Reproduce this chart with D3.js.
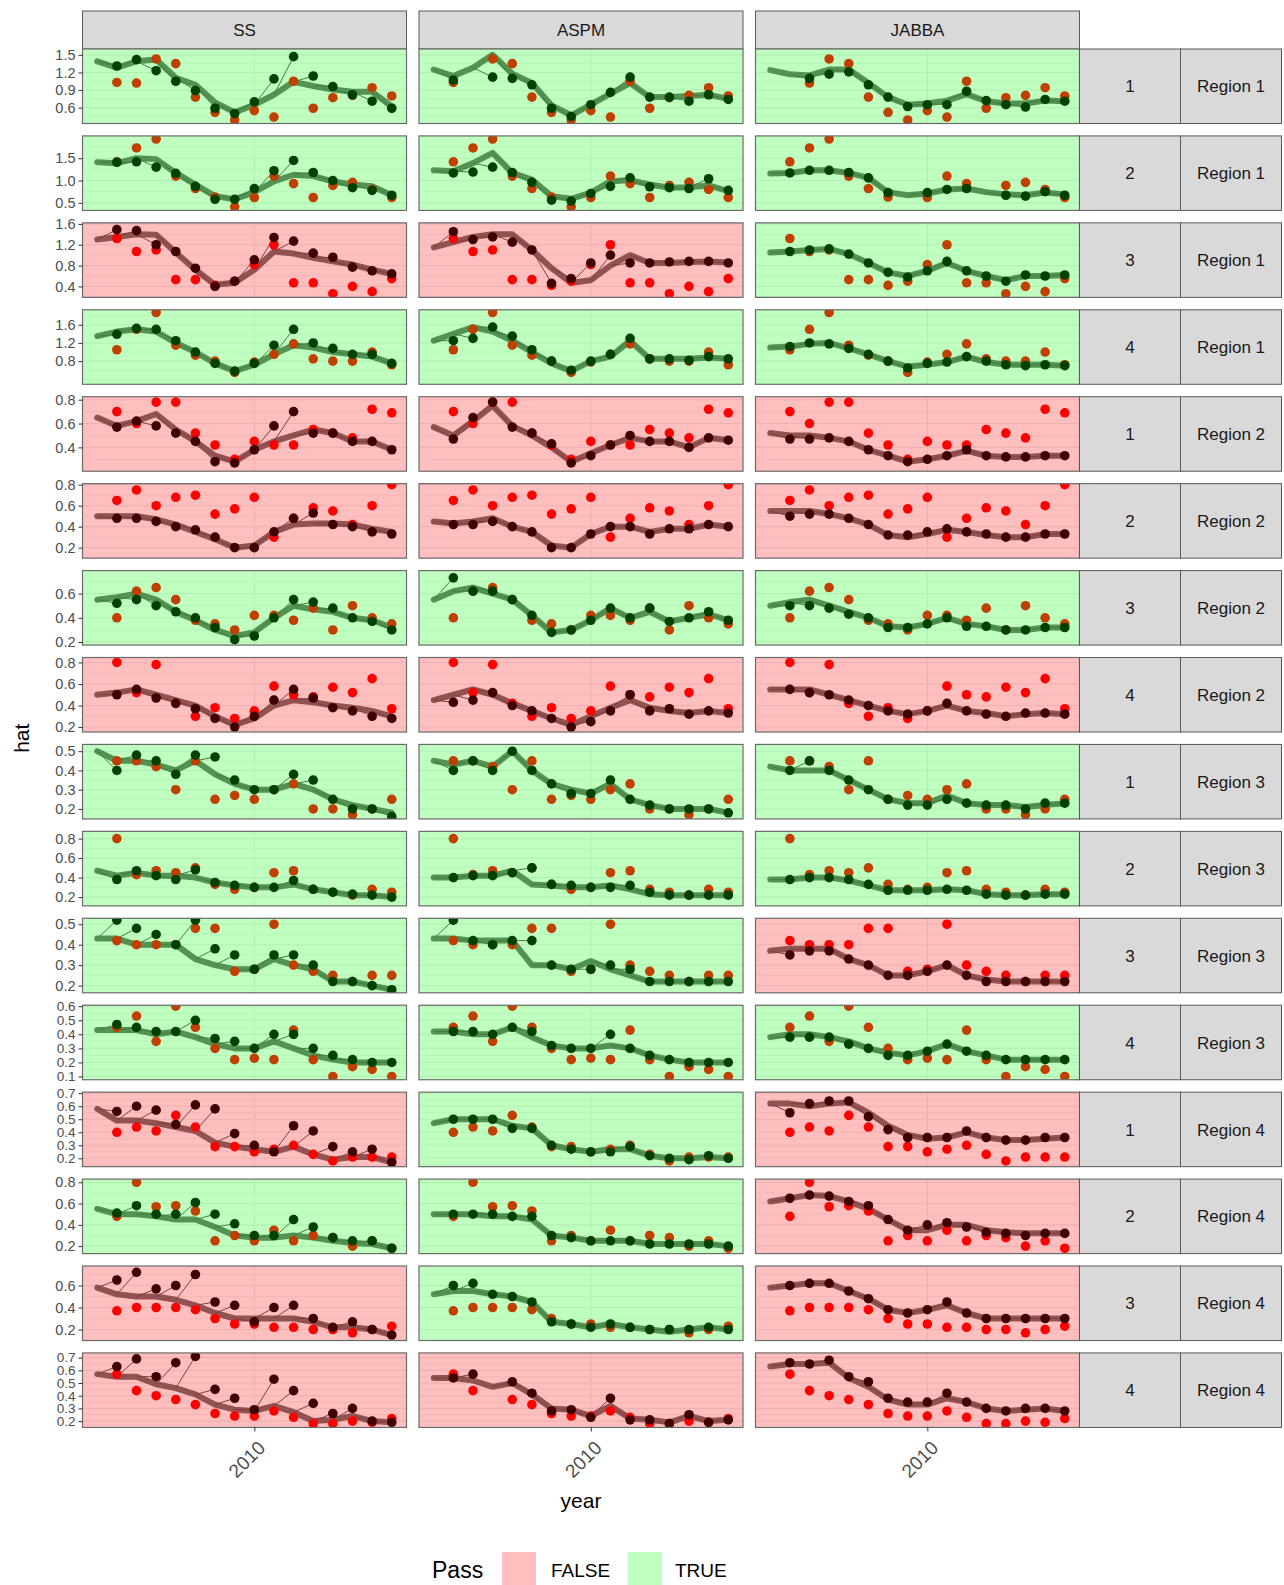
<!DOCTYPE html>
<html>
<head>
<meta charset="utf-8">
<script src="https://cdn.jsdelivr.net/npm/d3@7"></script>
<style>
  body { margin: 0; background: #fff; }
  svg text { font-family: "Liberation Sans", Arial, Helvetica, sans-serif; }
</style>
</head>
<body>
<svg id="chart" width="1284" height="1585"></svg>
<script>
// ---- facet labels ----
const models = ["SS", "ASPM", "JABBA"];
const indexLabels = ["1","2","3","4","1","2","3","4","1","2","3","4","1","2","3","4"];
const regionLabels = ["Region 1","Region 1","Region 1","Region 1","Region 2","Region 2","Region 2","Region 2",
                      "Region 3","Region 3","Region 3","Region 3","Region 4","Region 4","Region 4","Region 4"];

// ---- years ----
const fitYears  = [2002,2003,2004,2005,2006,2007,2008,2009,2010,2011,2012,2013,2014,2015,2016,2017];
const predYears = [2003,2004,2005,2006,2007,2008,2009,2010,2011,2012,2013,2014,2015,2016,2017];
const xTicks = [2010];

// ---- y axis per facet row ----
const yLimits = [
  [0.33,1.60],[0.33,2.00],[0.19,1.62],[0.29,1.93],
  [0.20,0.825],[0.10,0.81],[0.175,0.79],[0.154,0.846],
  [0.148,0.535],[0.11,0.874],[0.165,0.529],[0.077,0.607],
  [0.136,0.708],[0.13,0.83],[0.10,0.777],[0.15,0.737]
];
const yTicks = [
  [0.6,0.9,1.2,1.5],[0.5,1.0,1.5],[0.4,0.8,1.2,1.6],[0.8,1.2,1.6],
  [0.4,0.6,0.8],[0.2,0.4,0.6,0.8],[0.2,0.4,0.6],[0.2,0.4,0.6,0.8],
  [0.2,0.3,0.4,0.5],[0.2,0.4,0.6,0.8],[0.2,0.3,0.4,0.5],[0.1,0.2,0.3,0.4,0.5,0.6],
  [0.2,0.3,0.4,0.5,0.6,0.7],[0.2,0.4,0.6,0.8],[0.2,0.4,0.6],[0.2,0.3,0.4,0.5,0.6,0.7]
];

// ---- Pass (per row: SS, ASPM, JABBA) ----
const pass = [
  [true,true,true],[true,true,true],[false,false,true],[true,true,true],
  [false,false,false],[false,false,false],[true,true,true],[false,false,false],
  [true,true,true],[true,true,true],[true,true,false],[true,true,true],
  [false,true,false],[true,true,false],[false,true,false],[false,false,false]
];

// ---- observed index (2003-2017), one row per facet row ----
const observed = [
  [1.03,1.02,1.43,1.35,0.78,0.52,0.39,0.55,0.44,1.05,0.59,0.77,0.81,0.94,0.80],
  [1.42,1.73,1.93,1.10,0.82,0.63,0.41,0.62,1.10,0.93,0.62,0.89,0.96,0.80,0.62],
  [1.32,1.07,1.10,0.53,0.53,0.42,0.50,0.82,1.20,0.47,0.47,0.26,0.40,0.30,0.55],
  [1.05,1.50,1.87,1.15,0.93,0.80,0.55,0.78,0.95,1.18,0.85,0.80,0.80,1.00,0.72],
  [0.70,0.60,0.78,0.78,0.52,0.42,0.30,0.45,0.42,0.42,0.55,0.52,0.48,0.72,0.69],
  [0.65,0.75,0.60,0.68,0.70,0.52,0.57,0.68,0.30,0.48,0.58,0.55,0.42,0.60,0.80],
  [0.40,0.62,0.65,0.55,0.38,0.35,0.30,0.42,0.42,0.38,0.48,0.30,0.50,0.40,0.35],
  [0.80,0.52,0.78,0.42,0.30,0.38,0.28,0.35,0.58,0.50,0.48,0.57,0.52,0.65,0.37],
  [0.45,0.45,0.42,0.30,0.45,0.25,0.27,0.25,0.30,0.33,0.20,0.20,0.17,0.20,0.25],
  [0.80,0.43,0.47,0.45,0.50,0.33,0.28,0.30,0.45,0.47,0.28,0.25,0.22,0.28,0.25],
  [0.42,0.40,0.40,0.40,0.48,0.48,0.27,0.28,0.50,0.30,0.27,0.25,0.22,0.25,0.25],
  [0.45,0.53,0.35,0.60,0.45,0.30,0.22,0.23,0.22,0.43,0.22,0.10,0.17,0.15,0.10],
  [0.40,0.44,0.41,0.53,0.44,0.29,0.29,0.25,0.27,0.30,0.23,0.18,0.21,0.21,0.21],
  [0.48,0.80,0.57,0.58,0.53,0.25,0.30,0.25,0.35,0.25,0.30,0.28,0.20,0.25,0.18],
  [0.37,0.40,0.40,0.40,0.38,0.30,0.25,0.25,0.22,0.22,0.20,0.20,0.17,0.20,0.23],
  [0.57,0.44,0.40,0.37,0.33,0.26,0.24,0.24,0.28,0.23,0.18,0.18,0.20,0.19,0.22]
];

// ---- one-step-ahead predictions (2003-2017); null = no hindcast that year ----
const hatSS = [
  [1.31,1.42,1.23,1.05,0.89,0.59,0.50,0.70,1.09,1.47,1.14,0.96,0.82,0.71,0.59],
  [1.41,1.42,1.30,1.16,0.87,0.58,0.58,0.82,1.22,1.45,1.18,1.00,0.84,0.78,0.67],
  [1.49,1.47,1.20,1.07,0.75,0.40,0.50,0.91,1.34,1.27,1.04,0.96,0.77,0.70,0.64],
  [1.39,1.52,1.50,1.25,1.00,0.75,0.58,0.75,1.15,1.50,1.20,1.08,0.95,0.95,0.75],
  [0.57,0.62,0.58,0.52,0.45,0.28,0.27,0.38,0.58,0.70,0.52,0.52,0.45,0.45,0.38],
  [0.48,0.48,0.45,0.40,0.37,0.30,0.20,0.20,0.35,0.48,0.53,0.42,0.40,0.35,0.33],
  [0.52,0.55,0.50,0.45,0.40,0.32,0.22,0.25,0.40,0.55,0.53,0.48,0.40,0.37,0.30],
  [0.50,0.55,0.47,0.42,0.37,0.28,0.20,0.30,0.45,0.55,0.47,0.38,0.35,0.30,0.28],
  [0.40,0.48,0.45,0.38,0.48,0.47,0.35,0.30,0.30,0.38,0.35,0.25,0.20,0.20,0.16],
  [0.38,0.47,0.42,0.38,0.48,0.35,0.32,0.30,0.30,0.37,0.28,0.25,0.23,0.22,0.20],
  [0.52,0.48,0.45,0.40,0.52,0.38,0.35,0.28,0.35,0.35,0.30,0.22,0.22,0.20,0.18],
  [0.47,0.45,0.42,0.42,0.50,0.37,0.35,0.30,0.40,0.40,0.30,0.25,0.22,0.20,0.20],
  [0.56,0.60,0.57,0.46,0.61,0.58,0.39,0.30,0.25,0.45,0.41,0.29,0.25,0.27,0.17],
  [0.51,0.58,0.50,0.50,0.61,0.50,0.41,0.30,0.30,0.45,0.38,0.28,0.25,0.25,0.18],
  [0.65,0.72,0.57,0.60,0.70,0.45,0.42,0.27,0.40,0.42,0.30,0.22,0.27,0.20,0.15],
  [0.63,0.69,0.55,0.66,0.71,0.45,0.38,0.29,0.53,0.44,0.34,0.26,0.30,0.20,0.19]
];
const hatASPM = [
  [1.07,null,1.12,1.10,0.99,0.59,0.45,0.65,0.86,1.12,0.78,0.78,0.71,0.82,0.74],
  [1.17,1.19,1.30,1.18,0.96,0.56,0.54,0.71,0.87,1.06,0.86,0.84,0.82,1.04,0.78],
  [1.45,1.30,1.35,1.25,1.10,0.46,0.55,0.85,1.00,0.85,0.85,0.87,0.88,0.88,0.85],
  [1.25,1.30,1.55,1.35,1.05,0.80,0.60,0.80,0.95,1.30,0.85,0.85,0.82,0.90,0.85],
  [0.47,0.65,0.78,0.57,0.52,0.43,0.27,0.33,0.42,0.50,0.45,0.45,0.40,0.48,0.46],
  [0.42,0.42,0.45,0.40,0.35,0.20,0.20,0.33,0.40,0.40,0.33,0.38,0.38,0.42,0.40],
  [0.73,0.62,0.62,0.55,0.42,0.28,0.30,0.38,0.48,0.40,0.48,0.37,0.40,0.45,0.38],
  [0.43,0.45,0.52,0.40,0.35,0.28,0.20,0.25,0.35,0.50,0.35,0.37,0.32,0.35,0.33],
  [0.40,0.45,0.40,0.50,0.40,0.33,0.28,0.28,0.35,0.25,0.22,0.20,0.20,0.20,0.18],
  [0.40,0.42,0.42,0.45,0.50,0.33,0.32,0.30,0.30,0.32,0.25,0.22,0.22,0.22,0.22],
  [0.52,0.42,0.40,0.42,0.42,0.30,0.28,0.28,0.30,0.28,0.22,0.22,0.22,0.22,0.22],
  [0.42,0.42,0.40,0.45,0.42,0.32,0.30,0.30,0.40,0.30,0.25,0.22,0.20,0.20,0.20],
  [0.50,0.50,0.50,0.43,0.43,0.30,0.27,0.25,0.25,0.29,0.22,0.20,0.19,0.22,0.20],
  [0.50,0.50,0.50,0.48,0.48,0.30,0.28,0.25,0.25,0.25,0.22,0.22,0.22,0.22,0.20],
  [0.60,0.62,0.52,0.50,0.45,0.27,0.25,0.22,0.25,0.22,0.20,0.20,0.20,0.22,0.20],
  [0.54,0.57,null,0.51,0.42,0.28,0.29,0.23,0.38,0.21,0.21,0.18,0.25,0.19,0.21]
];
const hatJABBA = [
  [null,1.10,1.17,1.21,0.99,0.78,0.62,0.65,0.65,0.88,0.72,0.65,0.61,0.74,0.71],
  [1.17,1.23,1.23,1.18,1.06,0.73,null,0.73,0.80,0.82,null,0.67,0.65,0.75,0.67],
  [1.07,1.10,1.12,1.02,0.85,0.67,0.58,0.70,0.88,0.70,0.60,0.50,0.62,0.60,0.62],
  [1.12,1.20,1.18,1.08,0.95,0.80,0.65,0.75,0.78,0.90,0.80,0.72,0.70,0.72,0.70],
  [0.47,0.47,0.48,0.45,0.38,0.33,0.28,0.30,0.33,0.38,0.33,0.32,0.32,0.33,0.33],
  [0.50,0.52,0.52,0.48,0.42,0.32,0.32,0.35,0.38,0.35,0.33,0.30,0.30,0.33,0.33],
  [0.50,0.50,0.48,0.43,0.40,0.32,0.32,0.35,0.40,0.33,0.33,0.30,0.30,0.32,0.32],
  [0.55,0.52,0.50,0.45,0.40,0.35,0.32,0.35,0.42,0.35,0.32,0.30,0.33,0.33,0.32],
  [0.40,0.45,0.40,0.35,0.30,0.25,0.22,0.22,0.25,0.23,0.22,0.22,0.20,0.23,0.23],
  [0.38,0.40,0.40,0.38,0.33,0.27,0.27,0.27,0.28,0.27,0.23,0.22,0.22,0.23,0.23],
  [0.35,0.37,0.37,0.33,0.30,0.25,0.25,0.27,0.30,0.25,0.22,0.22,0.22,0.22,0.22],
  [0.38,0.38,0.38,0.33,0.30,0.25,0.25,0.28,0.33,0.28,0.25,0.22,0.22,0.22,0.22],
  [0.55,0.62,0.64,0.64,0.52,0.42,0.36,0.36,0.36,0.41,0.36,0.34,0.34,0.36,0.36],
  [0.65,0.68,0.67,0.62,0.58,0.45,0.35,0.40,0.42,0.38,0.33,0.32,0.30,0.32,0.32],
  [0.60,0.62,0.62,0.55,0.48,0.38,0.35,0.38,0.45,0.35,0.30,0.30,0.30,0.30,0.30],
  [0.66,0.65,0.68,0.55,0.51,0.38,0.35,0.35,0.42,0.35,0.30,0.28,0.30,0.30,0.28]
];

// ---- full-model fits (2002-2017) ----
const fitSS = [
  [1.39,1.28,1.39,1.42,1.11,0.99,0.69,0.52,0.65,0.82,1.04,0.97,0.91,0.87,0.87,0.62],
  [1.41,1.39,1.50,1.48,1.17,0.91,0.65,0.58,0.74,0.98,1.13,1.10,0.98,0.91,0.87,0.67],
  [1.30,1.35,1.40,1.39,1.05,0.72,0.43,0.47,0.72,1.07,1.03,0.95,0.88,0.82,0.72,0.64],
  [1.35,1.45,1.50,1.45,1.20,1.00,0.75,0.58,0.72,0.95,1.15,1.10,1.00,0.95,0.90,0.75],
  [0.65,0.58,0.62,0.68,0.55,0.45,0.33,0.28,0.38,0.45,0.50,0.55,0.52,0.45,0.45,0.38],
  [0.50,0.50,0.50,0.47,0.42,0.35,0.28,0.20,0.22,0.35,0.42,0.43,0.43,0.42,0.38,0.35],
  [0.55,0.57,0.60,0.55,0.45,0.38,0.30,0.25,0.28,0.40,0.50,0.47,0.45,0.40,0.38,0.32],
  [0.50,0.52,0.55,0.50,0.45,0.40,0.30,0.22,0.28,0.40,0.45,0.43,0.40,0.38,0.35,0.30],
  [0.50,0.45,0.45,0.43,0.40,0.45,0.38,0.33,0.30,0.30,0.33,0.30,0.25,0.22,0.20,0.18],
  [0.47,0.42,0.45,0.42,0.42,0.40,0.35,0.32,0.30,0.30,0.33,0.28,0.25,0.22,0.22,0.20],
  [0.43,0.43,0.40,0.40,0.40,0.33,0.30,0.28,0.28,0.33,0.30,0.28,0.22,0.22,0.20,0.18],
  [0.43,0.43,0.43,0.40,0.42,0.38,0.33,0.30,0.30,0.35,0.30,0.25,0.22,0.20,0.20,0.20],
  [0.58,0.49,0.49,0.47,0.44,0.41,0.32,0.29,0.27,0.25,0.29,0.23,0.19,0.21,0.21,0.17],
  [0.55,0.50,0.50,0.48,0.45,0.45,0.38,0.30,0.28,0.28,0.30,0.28,0.25,0.23,0.22,0.18],
  [0.58,0.52,0.50,0.50,0.47,0.42,0.35,0.30,0.30,0.30,0.30,0.27,0.22,0.22,0.20,0.15],
  [0.57,0.55,0.55,0.49,0.46,0.41,0.33,0.29,0.28,0.32,0.27,0.20,0.21,0.24,0.20,0.19]
];
const fitASPM = [
  [1.25,1.14,1.28,1.50,1.18,1.02,0.64,0.47,0.65,0.84,1.02,0.78,0.78,0.80,0.82,0.75],
  [1.23,1.21,1.39,1.62,1.17,1.02,0.65,0.59,0.73,0.98,1.01,0.91,0.84,0.85,0.89,0.76],
  [1.15,1.25,1.35,1.40,1.40,1.10,0.75,0.47,0.52,0.80,1.00,0.85,0.85,0.87,0.88,0.86],
  [1.25,1.40,1.55,1.45,1.25,1.00,0.75,0.58,0.80,0.90,1.25,0.85,0.85,0.85,0.88,0.85],
  [0.57,0.50,0.62,0.75,0.58,0.50,0.40,0.28,0.35,0.42,0.48,0.45,0.45,0.40,0.48,0.46],
  [0.45,0.43,0.45,0.48,0.40,0.35,0.22,0.20,0.33,0.40,0.40,0.35,0.38,0.38,0.42,0.40],
  [0.55,0.62,0.65,0.60,0.55,0.42,0.28,0.30,0.38,0.48,0.40,0.45,0.37,0.40,0.43,0.38],
  [0.45,0.50,0.55,0.50,0.42,0.35,0.28,0.22,0.30,0.38,0.45,0.38,0.35,0.33,0.35,0.33],
  [0.45,0.43,0.45,0.42,0.50,0.40,0.33,0.30,0.28,0.33,0.25,0.22,0.20,0.20,0.20,0.18],
  [0.40,0.40,0.42,0.42,0.47,0.33,0.32,0.30,0.30,0.32,0.28,0.23,0.22,0.22,0.22,0.22],
  [0.43,0.43,0.42,0.42,0.42,0.30,0.30,0.28,0.32,0.28,0.25,0.22,0.22,0.22,0.22,0.22],
  [0.42,0.42,0.40,0.40,0.45,0.38,0.32,0.30,0.30,0.32,0.30,0.25,0.22,0.20,0.20,0.20],
  [0.47,0.50,0.50,0.50,0.45,0.43,0.30,0.27,0.25,0.27,0.27,0.22,0.20,0.20,0.21,0.20],
  [0.50,0.50,0.50,0.48,0.48,0.45,0.30,0.28,0.25,0.25,0.25,0.22,0.22,0.22,0.22,0.20],
  [0.52,0.55,0.55,0.52,0.50,0.45,0.27,0.25,0.22,0.25,0.22,0.20,0.18,0.20,0.22,0.20],
  [0.54,0.54,0.52,0.47,0.50,0.41,0.30,0.29,0.24,0.32,0.22,0.21,0.19,0.24,0.20,0.21]
];
const fitJABBA = [
  [1.24,1.17,1.15,1.25,1.25,1.02,0.78,0.65,0.67,0.72,0.83,0.71,0.67,0.67,0.72,0.71],
  [1.16,1.17,1.23,1.23,1.17,1.06,0.74,0.67,0.71,0.80,0.82,0.74,0.69,0.67,0.73,0.69],
  [1.05,1.07,1.10,1.12,1.02,0.85,0.67,0.60,0.70,0.85,0.70,0.60,0.52,0.60,0.60,0.62],
  [1.10,1.12,1.18,1.20,1.08,0.95,0.80,0.68,0.72,0.78,0.90,0.78,0.72,0.72,0.72,0.70],
  [0.52,0.50,0.50,0.48,0.45,0.38,0.33,0.28,0.30,0.33,0.37,0.33,0.32,0.32,0.33,0.33],
  [0.55,0.55,0.55,0.52,0.48,0.42,0.32,0.30,0.33,0.37,0.35,0.32,0.30,0.30,0.33,0.33],
  [0.50,0.53,0.55,0.50,0.45,0.40,0.33,0.32,0.35,0.40,0.35,0.33,0.30,0.30,0.32,0.32],
  [0.55,0.55,0.55,0.50,0.45,0.40,0.35,0.32,0.35,0.40,0.35,0.33,0.30,0.32,0.33,0.32],
  [0.42,0.40,0.40,0.40,0.35,0.30,0.25,0.23,0.23,0.27,0.23,0.22,0.22,0.21,0.22,0.23],
  [0.38,0.38,0.40,0.40,0.37,0.32,0.27,0.27,0.27,0.28,0.27,0.23,0.22,0.22,0.23,0.23],
  [0.37,0.38,0.38,0.38,0.33,0.30,0.25,0.25,0.27,0.30,0.25,0.23,0.22,0.22,0.22,0.22],
  [0.38,0.40,0.40,0.38,0.35,0.30,0.27,0.25,0.28,0.33,0.28,0.25,0.22,0.22,0.22,0.22],
  [0.62,0.62,0.60,0.62,0.63,0.55,0.45,0.38,0.35,0.36,0.40,0.36,0.34,0.34,0.35,0.36],
  [0.62,0.65,0.68,0.67,0.62,0.55,0.45,0.35,0.35,0.40,0.40,0.35,0.33,0.32,0.32,0.32],
  [0.58,0.60,0.62,0.62,0.55,0.48,0.38,0.35,0.38,0.42,0.35,0.30,0.30,0.30,0.30,0.30],
  [0.63,0.65,0.65,0.66,0.54,0.47,0.37,0.33,0.33,0.38,0.35,0.30,0.28,0.29,0.30,0.28]
];

const hats = { SS: hatSS, ASPM: hatASPM, JABBA: hatJABBA };
const fits = { SS: fitSS, ASPM: fitASPM, JABBA: fitJABBA };

// ---- layout ----
const svg = d3.select("#chart");
const colLeft = [82.5, 419, 755.5];
const panelW = 324, panelH = 74.5, rowStep = 86.93, firstTop = 49;
const stripTop = 11, stripH = 38;
const rstrip1 = 1079.5, rstrip2 = 1180.5, rstripW = 101;
const rowTop = i => firstTop + i * rowStep;

const passFill = { true: "#00FF00", false: "#FF0000" };

// shared x scale with 5% expansion on each side
const [xa, xb] = d3.extent(fitYears);
const xpad = (xb - xa) * 0.05;
const x = d3.scaleLinear().domain([xa - xpad, xb + xpad]).range([0, panelW]);

svg.append("defs").append("clipPath").attr("id", "panelClip")
  .append("rect").attr("width", panelW).attr("height", panelH);

// column strips
models.forEach((m, c) => {
  svg.append("rect").attr("x", colLeft[c]).attr("y", stripTop)
    .attr("width", panelW).attr("height", stripH)
    .attr("fill", "#D9D9D9").attr("stroke", "#5a5a5a").attr("stroke-width", 1);
  svg.append("text").attr("x", colLeft[c] + panelW / 2).attr("y", stripTop + stripH / 2)
    .attr("dy", "0.36em").attr("text-anchor", "middle")
    .attr("font-size", 17).attr("fill", "#1A1A1A").text(m);
});

const lineGen = (ys) => d3.line().defined(d => d[1] != null)
  .x(d => x(d[0])).y(d => ys(d[1]));

observed.forEach((obs, r) => {
  const top = rowTop(r);
  const y = d3.scaleLinear().domain(yLimits[r]).range([panelH, 0]);
  const ticks = yTicks[r];
  const step = ticks[1] - ticks[0];
  const minor = [];
  for (let k = Math.ceil(yLimits[r][0] / (step / 2)); k * step / 2 <= yLimits[r][1]; k++) {
    const v = +(k * step / 2).toFixed(4);
    if (!ticks.some(t => Math.abs(t - v) < 1e-6)) minor.push(v);
  }

  models.forEach((m, c) => {
    const g = svg.append("g").attr("transform", `translate(${colLeft[c]},${top})`);
    g.append("rect").attr("width", panelW).attr("height", panelH).attr("fill", "#fff");

    // grid
    const grid = g.append("g");
    grid.selectAll("line.minor").data(minor).join("line")
      .attr("x1", 0).attr("x2", panelW).attr("y1", d => y(d)).attr("y2", d => y(d))
      .attr("stroke", "#EBEBEB").attr("stroke-width", 0.6);
    grid.selectAll("line.major").data(ticks).join("line")
      .attr("x1", 0).attr("x2", panelW).attr("y1", d => y(d)).attr("y2", d => y(d))
      .attr("stroke", "#EBEBEB").attr("stroke-width", 1.1);
    grid.selectAll("line.vmajor").data(xTicks).join("line")
      .attr("x1", d => x(d)).attr("x2", d => x(d)).attr("y1", 0).attr("y2", panelH)
      .attr("stroke", "#EBEBEB").attr("stroke-width", 1.1);

    const body = g.append("g").attr("clip-path", "url(#panelClip)");
    const fit = fits[m][r];
    const hat = hats[m][r];
    const fitPts = fitYears.map((yr, i) => [yr, fit[i]]);

    // full-model trajectory
    body.append("path").datum(fitPts).attr("d", lineGen(y))
      .attr("fill", "none").attr("stroke", "#6e6e6e").attr("stroke-width", 6)
      .attr("stroke-linejoin", "round").attr("stroke-linecap", "round");

    // peel predictions: line from last fitted year to predicted value
    const peels = predYears.map((yr, i) => ({ yr, prev: fit[i], hat: hat[i] }))
      .filter(d => d.hat != null);
    body.selectAll("line.peel").data(peels).join("line")
      .attr("x1", d => x(d.yr - 1)).attr("y1", d => y(d.prev))
      .attr("x2", d => x(d.yr)).attr("y2", d => y(d.hat))
      .attr("stroke", "#555").attr("stroke-width", 1);

    // observed index
    const obsPts = predYears.map((yr, i) => ({ yr, v: obs[i], has: hat[i] != null }))
      .filter(d => d.has);
    body.selectAll("circle.obs").data(obsPts).join("circle")
      .attr("cx", d => x(d.yr)).attr("cy", d => y(d.v)).attr("r", 4.8)
      .attr("fill", "#FF0000");

    // predicted
    body.selectAll("circle.hat").data(peels).join("circle")
      .attr("cx", d => x(d.yr)).attr("cy", d => y(d.hat)).attr("r", 4.8)
      .attr("fill", "#000");

    // Pass tint over the whole panel
    g.append("rect").attr("width", panelW).attr("height", panelH)
      .attr("fill", passFill[pass[r][c]]).attr("fill-opacity", 0.25);
    g.append("rect").attr("width", panelW).attr("height", panelH)
      .attr("fill", "none").attr("stroke", "#6a6a6a").attr("stroke-width", 1.2);
  });

  // y axis
  const ax = svg.append("g").attr("transform", `translate(${colLeft[0]},${top})`)
    .call(d3.axisLeft(y).tickValues(ticks).tickSize(4).tickPadding(3).tickFormat(d3.format(".1f")));
  ax.select(".domain").remove();
  ax.selectAll(".tick line").attr("stroke", "#333");
  ax.selectAll(".tick text").attr("font-size", ticks.length > 5 ? 13.5 : 14.5).attr("fill", "#4D4D4D")
    .attr("font-family", "'Liberation Sans', Arial, sans-serif");

  // row strips
  [[rstrip1, indexLabels[r]], [rstrip2, regionLabels[r]]].forEach(([sx, lab]) => {
    svg.append("rect").attr("x", sx).attr("y", top).attr("width", rstripW).attr("height", panelH)
      .attr("fill", "#D9D9D9").attr("stroke", "#5a5a5a").attr("stroke-width", 1);
    svg.append("text").attr("x", sx + rstripW / 2).attr("y", top + panelH / 2)
      .attr("dy", "0.36em").attr("text-anchor", "middle")
      .attr("font-size", 17).attr("fill", "#1A1A1A").text(lab);
  });
});

// x axes under the bottom row
const bottom = rowTop(observed.length - 1) + panelH;
models.forEach((m, c) => {
  const ax = svg.append("g").attr("transform", `translate(${colLeft[c]},${bottom})`)
    .call(d3.axisBottom(x).tickValues(xTicks).tickSize(4).tickFormat(d3.format("d")));
  ax.select(".domain").remove();
  ax.selectAll(".tick line").attr("stroke", "#333");
  ax.selectAll(".tick text")
    .attr("font-size", 19).attr("fill", "#4D4D4D")
    .attr("font-family", "'Liberation Sans', Arial, sans-serif")
    .attr("text-anchor", "end").attr("dy", null).attr("y", 0)
    .attr("transform", "translate(2,12) rotate(-45)")
    .attr("dominant-baseline", "hanging");
});

// axis titles
svg.append("text").attr("x", (colLeft[0] + colLeft[2] + panelW) / 2).attr("y", 1508)
  .attr("text-anchor", "middle").attr("font-size", 21).attr("fill", "#000").text("year");
svg.append("text").attr("transform", `translate(29,${(firstTop + bottom) / 2}) rotate(-90)`)
  .attr("text-anchor", "middle").attr("font-size", 21).attr("fill", "#000").text("hat");

// legend
const legY = 1552;
svg.append("text").attr("x", 432).attr("y", legY + 18).attr("dy", "0.35em")
  .attr("font-size", 23).attr("fill", "#000").text("Pass");
[[false, "FALSE", 502, 551], [true, "TRUE", 628, 675]].forEach(([k, lab, sx, tx]) => {
  svg.append("rect").attr("x", sx).attr("y", legY).attr("width", 34).attr("height", 34)
    .attr("fill", passFill[k]).attr("fill-opacity", 0.25);
  svg.append("text").attr("x", tx).attr("y", legY + 18).attr("dy", "0.35em")
    .attr("font-size", 19).attr("fill", "#000").text(lab);
});
</script>
</body>
</html>
